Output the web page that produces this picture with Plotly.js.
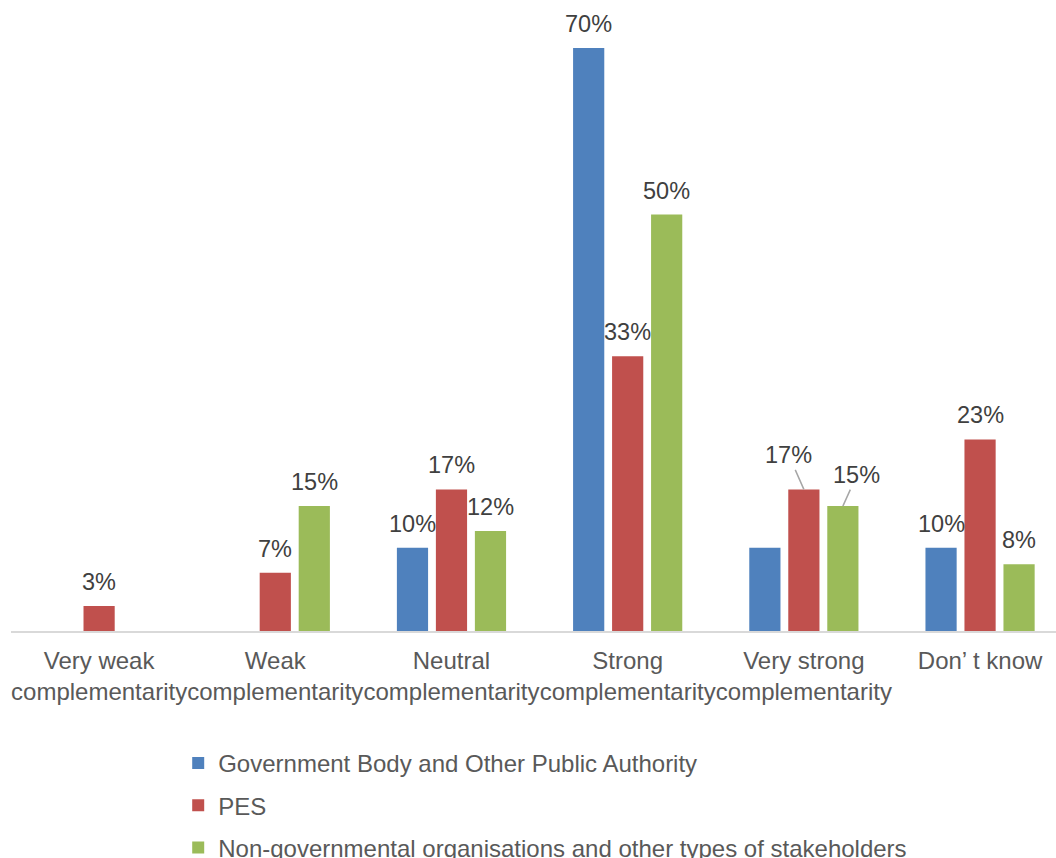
<!DOCTYPE html>
<html>
<head>
<meta charset="utf-8">
<script src="https://cdn.plot.ly/plotly-3.0.1.min.js"></script>
<style>
html,body{margin:0;padding:0;background:#fff;}
#chart{width:1056px;height:858px;}
</style>
</head>
<body>
<div id="chart"></div>
<script>
// ---- data ----
const categories = ['Very weak<br>complementarity', 'Weak<br>complementarity', 'Neutral<br>complementarity', 'Strong<br>complementarity', 'Very strong<br>complementarity', 'Don\u2019 t know'];
const seriesNames = ['Government Body and Other Public Authority', 'PES', 'Non-governmental organisations and other types of stakeholders'];
const govValues = [0, 0, 10, 70, 10, 10];
const pesValues = [3, 7, 17, 33, 17, 23];
const ngoValues = [0, 15, 12, 50, 15, 8];
// whether each value carries a data label
const govShowLabel = [false, false, true, true, false, true];
const pesShowLabel = [true, true, true, true, true, true];
const ngoShowLabel = [false, true, true, true, true, true];
// labels moved away from their bar with a leader line: [category index, series index, dx, dy]
const leaderLabels = [[4, 1, -15, -34], [4, 2, 14, -31]];

// ---- styling ----
const colors = ['#4f81bd', '#c0504d', '#9bbb59'];
const FONT = '"Liberation Sans", Arial, sans-serif';
const slotPx = 39;

const allValues = [govValues, pesValues, ngoValues];
const allShow = [govShowLabel, pesShowLabel, ngoShowLabel];

const traces = allValues.map((vals, s) => ({
  type: 'bar',
  name: seriesNames[s],
  x: categories,
  y: vals,
  marker: {color: colors[s], line: {width: 0}},
  legendgroup: 'g' + s,
  hoverinfo: 'none'
}));

const annotations = [];
allValues.forEach((vals, s) => {
  vals.forEach((v, i) => {
    if (!allShow[s][i]) return;
    const lead = leaderLabels.find(l => l[0] === i && l[1] === s);
    const base = {
      x: categories[i], y: v, xref: 'x', yref: 'y',
      text: v + '%',
      font: {family: FONT, size: 23.5, color: '#404040'},
      xshift: (s - 1) * slotPx
    };
    if (lead) {
      Object.assign(base, {showarrow: true, arrowhead: 0, arrowwidth: 1.5, arrowcolor: '#a6a6a6',
        ax: lead[2], ay: lead[3], standoff: 0, startstandoff: 0});
    } else {
      Object.assign(base, {showarrow: false, yanchor: 'middle', yshift: 24});
    }
    annotations.push(base);
  });
});

const layout = {
  width: 1056, height: 858,
  margin: {l: 11, r: 0, t: 10, b: 227, autoexpand: false},
  paper_bgcolor: '#ffffff', plot_bgcolor: '#ffffff',
  barmode: 'group', bargap: 0.336, bargroupgap: 0.2,
  font: {family: FONT, color: '#595959'},
  showlegend: true,
  xaxis: {
    range: [-0.5, 5.431],
    showline: true, linecolor: '#d9d9d9', linewidth: 2,
    showgrid: false, zeroline: false, ticks: '',
    tickangle: 0,
    ticklabelstandoff: 7,
    tickfont: {family: FONT, size: 24, color: '#595959'},
    fixedrange: true
  },
  yaxis: {
    range: [0, 74.56], visible: false, showgrid: false, zeroline: false, fixedrange: true
  },
  legend: {
    orientation: 'v', x: 0.16, xanchor: 'left', y: -0.177, yanchor: 'top',
    font: {family: FONT, size: 24, color: '#595959'},
    traceorder: 'grouped', tracegroupgap: 8, bgcolor: 'rgba(0,0,0,0)'
  },
  annotations: annotations
};

Plotly.newPlot('chart', traces, layout, {displayModeBar: false, staticPlot: true});
</script>
</body>
</html>
